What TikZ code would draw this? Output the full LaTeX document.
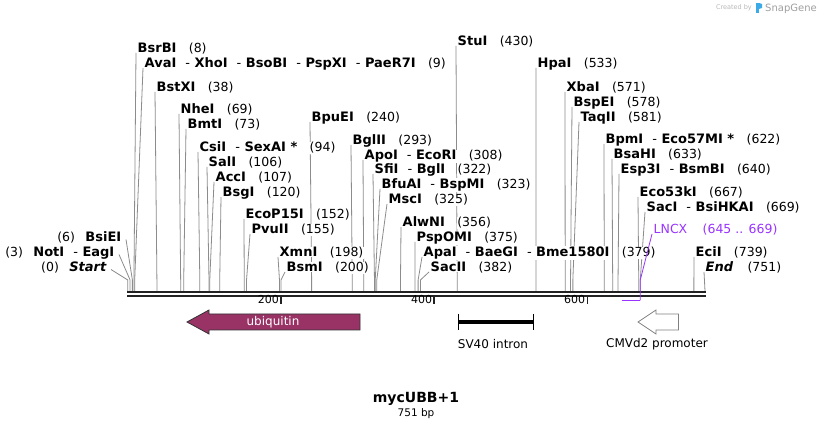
\documentclass[tikz,border=0pt]{standalone}
\usepackage{fontspec}
\setmainfont{DejaVu Sans}
\usetikzlibrary{positioning}
\usepackage{xcolor}

\definecolor{ubqfill}{RGB}{153,51,102}
\definecolor{lncx}{RGB}{153,51,255}
\definecolor{backbone}{RGB}{34,34,34}
\definecolor{siteline}{RGB}{140,140,140}
\definecolor{sglogo}{RGB}{60,170,230}

\pgfdeclarelayer{lines}
\pgfsetlayers{lines,main}

\newcommand{\dsh}{\ \ {\mdseries -}\ }
\newcommand{\enzfont}{\fontsize{13}{15}\selectfont\bfseries}
\newcommand{\posfont}{\fontsize{12.5}{14}\selectfont}

\begin{document}
\begin{tikzpicture}[x=1pt, y=-1pt,
  enz/.style={anchor=base west, inner sep=0.5pt, fill=white, font=\enzfont},
  bpnum/.style={anchor=base west, inner sep=0.5pt, fill=white, font=\posfont},
  cut/.style={draw=siteline, line width=0.8pt},
  bb/.style={draw=backbone, line width=2.3pt},
  tck/.style={draw=backbone, line width=1.6pt},
  feat/.style={inner sep=0pt, font=\fontsize{12}{14}\selectfont}
]
\useasboundingbox (0,0) rectangle (833,430);
\begin{pgfonlayer}{lines}
\fill[white] (0,0) rectangle (833,430);
\end{pgfonlayer}

\coordinate (kink) at (0,280);

% backbone
\coordinate (bb-start) at (127,292.3);
\coordinate (bb-end) at (706,292.3);
\draw[bb] (bb-start) -- (bb-end);
\draw[bb] ([yshift=-4pt]bb-start) -- ([yshift=-4pt]bb-end);

% sites right of their line
\foreach \id/\lx/\ly/\site/\nm/\num in {
  bsrbi/137/48/8/BsrBI/8,
  avai/144/63/9/{AvaI\dsh XhoI\dsh BsoBI\dsh PspXI\dsh PaeR7I}/9,
  bstxi/156/87/38/BstXI/38,
  nhei/180/109/69/NheI/69,
  bmti/187/124/73/BmtI/73,
  csii/199/147/94/{CsiI\dsh SexAI *}/94,
  sali/208/162/106/SalI/106,
  acci/215/177/107/AccI/107,
  bsgi/222/192/120/BsgI/120,
  ecop/245/214/152/EcoP15I/152,
  pvuii/251/229/155/PvuII/155,
  xmni/279/252/198/XmnI/198,
  bsmi/286/267/200/BsmI/200,
  bpuei/311/117/240/BpuEI/240,
  bglii/352/140/293/BglII/293,
  apoi/364/155/308/{ApoI\dsh EcoRI}/308,
  sfii/374/169/322/{SfiI\dsh BglI}/322,
  bfuai/381/184/323/{BfuAI\dsh BspMI}/323,
  msci/388/199/325/MscI/325,
  alwni/402/222/356/AlwNI/356,
  pspomi/416/237/375/PspOMI/375,
  apai/423/252/379/{ApaI\dsh BaeGI\dsh Bme1580I}/379,
  sacii/430/267/382/SacII/382,
  stui/457/41/430/StuI/430,
  hpai/537/63/533/HpaI/533,
  xbai/566/87/571/XbaI/571,
  bspei/573/102/578/BspEI/578,
  taqii/580/117/581/TaqII/581,
  bpmi/605/139/622/{BpmI\dsh Eco57MI *}/622,
  bsahi/613/154/633/BsaHI/633,
  esp3i/620/169/640/{Esp3I\dsh BsmBI}/640,
  eco53ki/639/192/667/Eco53kI/667,
  saci/646/207/669/{SacI\dsh BsiHKAI}/669,
  ecii/695/252/739/EciI/739}{
  \coordinate (s-\id) at ({127.8+0.766*\site},291);
  \node[enz] (l-\id) at (\lx,{\ly+4.5}) {\nm};
  \node[bpnum, right=11pt of l-\id.base east, anchor=base west] (n-\id) {(\num)};
  \begin{pgfonlayer}{lines}
  \draw[cut] ([xshift=-1pt,yshift=-0.5pt]l-\id.base west) -- (s-\id |- kink) -- (s-\id);
  \end{pgfonlayer}
}

% end of sequence
\coordinate (s-end) at (705,291);
\node[enz, font=\enzfont\itshape] (l-end) at (705,{267+4.5}) {End};
\node[bpnum, right=13pt of l-end.base east, anchor=base west] (n-end) {(751)};
\begin{pgfonlayer}{lines}
\draw[cut] ([xshift=-1pt,yshift=-0.5pt]l-end.base west) -- (s-end);
\end{pgfonlayer}

% sites left of their line
\foreach \id/\rx/\ly/\site/\nm/\num in {
  bsiei/122/237/6/BsiEI/6,
  noti/115/252/3/{NotI\dsh EagI}/3,
  start/107/267/0/{\itshape Start}/0}{
  \coordinate (s-\id) at ({127.8+0.766*\site},291);
  \node[enz, anchor=base east] (l-\id) at (\rx,{\ly+4.5}) {\nm};
  \node[bpnum, left=9pt of l-\id.base west, anchor=base east] (n-\id) {(\num)};
  \begin{pgfonlayer}{lines}
  \draw[cut] ([xshift=4pt,yshift=2pt]l-\id.base east) -- (s-\id |- kink) -- (s-\id);
  \end{pgfonlayer}
}

% scale ticks
\foreach \t in {200,400,600}{
  \coordinate (t-\t) at ({127.8+0.766*\t},297);
  \draw[tck] (t-\t) -- ++(0,7);
  \node[inner sep=0pt, anchor=base east, font=\fontsize{11}{13}\selectfont] (tl-\t) at ([xshift=-2pt,yshift=-6.5pt]t-\t) {\t};
}

% LNCX feature
\coordinate (lncx-a) at ({127.8+0.766*645},300.5);
\coordinate (lncx-b) at ({127.8+0.766*669},300.5);
\draw[lncx, line width=1.6pt] (lncx-a) -- (lncx-b);
\node[bpnum, text=lncx] (l-lncx) at (653,{229+4.5}) {LNCX};
\node[bpnum, text=lncx, right=14pt of l-lncx.base east, anchor=base west] (n-lncx) {(645 .. 669)};
\draw[lncx, line width=0.8pt] ([xshift=-1pt,yshift=-0.5pt]l-lncx.base west) -- (lncx-b |- kink) -- (lncx-b);

% ubiquitin
\draw[fill=ubqfill, draw=black!80, line width=0.8pt]
  (360,314) -- (209,314) -- (209,310) -- (187,322) -- (209,334) -- (209,330) -- (360,330) -- cycle;
\node[feat, text=white] (ubq) at (273,322) {ubiquitin};

% SV40 intron
\coordinate (sv-a) at (458.6,322);
\coordinate (sv-b) at (533.4,322);
\draw[line width=4pt] (sv-a) -- (sv-b);
\draw[line width=1.3pt] ([yshift=8pt]sv-a) -- ([yshift=-8pt]sv-a);
\draw[line width=1.3pt] ([yshift=8pt]sv-b) -- ([yshift=-8pt]sv-b);
\node[feat] (sv) at (493,344) {SV40 intron};

% CMVd2 promoter
\draw[fill=white, draw=gray, line width=0.8pt]
  (678.4,314) -- (656,314) -- (656,310) -- (638,322) -- (656,334) -- (656,330) -- (678.4,330) -- cycle;
\node[feat] (cmv) at (657,344) {CMVd2 promoter};

% title
\node[inner sep=0pt, font=\fontsize{14}{16}\selectfont\bfseries] (title) at (416,399) {mycUBB+1};
\node[inner sep=0pt, font=\fontsize{10.5}{12}\selectfont] (len) at (416,414) {751 bp};

% watermark
\node[inner sep=0pt, anchor=base east, text=gray!55, font=\fontsize{6.5}{7}\selectfont] (cby) at (752,10) {Created by};
\fill[sglogo] (756,3) rectangle (759,13);
\fill[sglogo] (759,3) -- (762,4) -- (762,8) -- (759,9) -- cycle;
\node[inner sep=0pt, anchor=base west, text=gray!75, font=\fontsize{10}{11}\selectfont] (sg) at (765,11.5) {SnapGene};
\end{tikzpicture}
\end{document}
